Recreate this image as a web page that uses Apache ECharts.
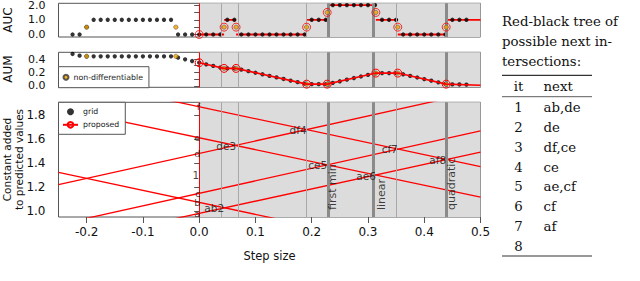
<!DOCTYPE html>
<html><head><meta charset="utf-8">
<script src="https://cdn.jsdelivr.net/npm/echarts@6/dist/echarts.min.js"></script>
<style>html,body{margin:0;padding:0;background:#fff}#c{width:640px;height:281px}</style>
</head><body><div id="c"></div>
<script>
// ---------- data ----------
const stepGrid = [-0.225,-0.2125,-0.2,-0.1875,-0.175,-0.1625,-0.15,-0.1375,-0.125,-0.1125,-0.1,-0.0875,-0.075,-0.0625,-0.05,-0.0375,-0.025,-0.0125,
  0,0.0125,0.025,0.0375,0.05,0.0625,0.075,0.0875,0.1,0.1125,0.125,0.1375,0.15,0.1625,0.175,0.1875,0.2,0.2125,0.225,0.2375,0.25,0.2625,0.275,0.2875,0.3,0.3125,0.325,0.3375,0.35,0.3625,0.375,0.3875,0.4,0.4125,0.425,0.4375,0.45,0.4625,0.475];
const gridAUC = [0,0,0.5,1,1,1,1,1,1,1,1,1,1,1,1,0,0,0,
  0,0,0,0,1,1,0,0,0,0,0,0,0,0,0,0,1,1,1,2,2,2,2,2,2,2,1,1,1,0,0,0,0,0,0,0,1,1,1];
const gridAUM = [0.475,0.45,0.44,0.44,0.44,0.44,0.44,0.44,0.44,0.44,0.44,0.44,0.44,0.44,0.44,0.42,0.395,0.37,
  0.345,0.321,0.297,0.273,0.26,0.26,0.242,0.219,0.195,0.172,0.148,0.125,0.102,0.078,0.055,0.032,0.025,0.025,0.025,
  0.044,0.068,0.092,0.116,0.139,0.163,0.187,0.19,0.19,0.19,0.172,0.148,0.124,0.1,0.076,0.052,0.028,0.022,0.02,0.018];
const iterSteps = [0, 0.0443, 0.0656, 0.191, 0.2275, 0.314, 0.353, 0.439];
const iterAUC = [0, 0.5, 0.5, 0.5, 1.5, 1.5, 0.5, 0.5];
const iterAUM = [0.345, 0.26, 0.26, 0.025, 0.025, 0.19, 0.19, 0.025];
const searchEnd = 0.5;
const aucAfterIter = [0, 1, 0, 1, 2, 1, 0, 1];
const aumAtEnd = 0.008;
const nondiffNegSteps = [-0.2, -0.0414];
const nondiffNegAUC = [0.5, 0.5];
const nondiffNegAUM = [0.44, 0.44];
const lineNames = ['a','b','c','d','e','f'];
const lineAtZero = [0.98, 1.072, 1.147, 1.48, 1.61, 1.869];
const lineAtLeft = [0.725, 1.322, 0.887, 1.22, 1.857, 2.119];   // step = -0.25
const lineAtRight = [1.49, 0.572, 1.667, 2.0, 1.116, 1.369];    // step = 0.5
const iterLabels = ['1','ab2','de3','df4','ce5','ae6','cf7','af8'];
const iterLabelConst = [1.3, 1.024, 1.54, 1.675, 1.382, 1.295, 1.514, 1.422];
const specialSteps = [0.2275, 0.314, 0.439];
const specialLabels = ['first min', 'linear', 'quadratic'];
const xTicks = [-0.2,-0.1,0,0.1,0.2,0.3,0.4,0.5];
const aucTicks = [0,0.5,1,1.5,2], aucLabels = [0,1,2];
const aumTicks = [0,0.1,0.2,0.3,0.4], aumLabels = [0,0.2,0.4];
const constTicks = [1.0,1.2,1.4,1.6,1.8];
const tableIt = ['1','2','3','4','5','6','7','8'];
const tableNext = ['ab,de','de','df,ce','ce','ae,cf','cf','af',''];

// ---------- chart ----------
const SANS = 'DejaVu Sans';
const SERIF = 'DejaVu Serif';
const RED = '#ff0000', ORANGE = '#f0a000';
const chart = echarts.init(document.getElementById('c'), null, {renderer: 'svg'});

const grids = [
  {left: 58.5, top: 3.3, width: 422, height: 33.7},
  {left: 58.5, top: 52.3, width: 422, height: 35},
  {left: 58.5, top: 102.3, width: 422, height: 114.7}
].map(g => Object.assign(g, {show: true, borderColor: '#555', borderWidth: 1, backgroundColor: 'transparent', outerBoundsMode: 'none', containLabel: false}));

const xAxes = [0,1,2].map(i => ({
  type: 'value', gridIndex: i, min: -0.25, max: 0.5,
  axisLine: {show: false}, splitLine: {show: false},
  axisTick: {show: i === 2, customValues: xTicks, length: 6, lineStyle: {color: '#555'}},
  axisLabel: {show: i === 2, customValues: xTicks, formatter: v => v.toFixed(1), margin: 9,
    color: '#111', fontFamily: SANS, fontSize: 12}
}));
function yAx(i, min, max, ticks, labels, fs) {
  return {type: 'value', gridIndex: i, min: min, max: max,
    axisLine: {show: false}, splitLine: {show: false},
    axisTick: {show: true, customValues: ticks, length: 5, lineStyle: {color: '#555'}},
    axisLabel: {show: true, customValues: labels, formatter: v => v.toFixed(1), margin: 13,
      color: '#111', fontFamily: SANS, fontSize: fs}};
}
const yAxes = [
  yAx(0, -0.17, 2.12, aucTicks, aucLabels, 11),
  yAx(1, -0.022, 0.5, aumTicks, aumLabels, 11),
  yAx(2, 0.95, 1.906, constTicks, constTicks, 12)
];

function backdrop(i, yMin) {
  const vlines = [{xAxis: iterSteps[0], lineStyle: {color: RED, width: 1, type: 'solid'}}]
    .concat(iterSteps.slice(1).map(s => ({xAxis: s, lineStyle: {color: '#a8a8a8', width: 1, type: 'solid'}})))
    .concat(specialSteps.map(s => ({xAxis: s, lineStyle: {color: '#8a8a8a', width: 3, type: 'solid'}})));
  return {type: 'scatter', xAxisIndex: i, yAxisIndex: i, data: [[searchEnd, yMin]], symbolSize: 0, silent: true, z: 1,
    markArea: {silent: true, itemStyle: {color: '#dcdcdc'}, data: [[{xAxis: iterSteps[0]}, {xAxis: searchEnd}]]},
    markLine: {silent: true, symbol: ['none','none'], label: {show: false}, lineStyle: {type: 'solid'}, data: vlines}};
}

const series = [];
series.push(backdrop(0, -0.17), backdrop(1, -0.022), backdrop(2, 0.95));

// AUM proposed line (first named 'proposed' for legend icon)
series.push({name: 'proposed', type: 'line', xAxisIndex: 1, yAxisIndex: 1,
  data: iterSteps.map((s, k) => [s, iterAUM[k]]).concat([{value: [searchEnd, aumAtEnd], symbol: 'none'}]),
  symbol: 'circle', symbolSize: 8,
  lineStyle: {color: RED, width: 1.6},
  itemStyle: {color: 'rgba(0,0,0,0)', borderColor: RED, borderWidth: 1}, z: 6});

// AUC proposed segments
iterSteps.forEach((s, k) => {
  const e = k + 1 < iterSteps.length ? iterSteps[k + 1] : searchEnd;
  series.push({name: 'seg' + k, type: 'line', xAxisIndex: 0, yAxisIndex: 0, z: 3, symbol: 'none',
    data: [[s, aucAfterIter[k]], [e, aucAfterIter[k]]], lineStyle: {color: RED, width: 1.8}});
});

// grid points
[0, 1].forEach(i => {
  const vals = i === 0 ? gridAUC : gridAUM;
  series.push({name: 'grid', type: 'scatter', xAxisIndex: i, yAxisIndex: i, z: 4,
    data: stepGrid.map((s, k) => [s, vals[k]]), symbol: 'circle', symbolSize: 4.3,
    itemStyle: {color: '#000'}});
});

// non-differentiable points
[0, 1].forEach(i => {
  const negVals = i === 0 ? nondiffNegAUC : nondiffNegAUM;
  const posVals = i === 0 ? iterAUC : iterAUM;
  const d = nondiffNegSteps.map((s, k) => [s, negVals[k]])
    .concat(iterSteps.slice(1).map((s, k) => [s, posVals[k + 1]]));
  series.push({name: 'non-differentiable', type: 'scatter', xAxisIndex: i, yAxisIndex: i, z: 5,
    data: d, symbol: 'circle', symbolSize: 4.4,
    itemStyle: {color: ORANGE, borderColor: '#333', borderWidth: 0.5}});
});

// AUC proposed circles
series.push({name: 'proposedAUC', type: 'scatter', xAxisIndex: 0, yAxisIndex: 0, z: 6,
  data: iterSteps.map((s, k) => [s, iterAUC[k]]), symbol: 'circle', symbolSize: 8,
  itemStyle: {color: 'rgba(0,0,0,0)', borderColor: RED, borderWidth: 1}});

// bottom panel lines
lineNames.forEach((n, k) => {
  series.push({name: 'line ' + n, type: 'line', xAxisIndex: 2, yAxisIndex: 2, z: 3, symbol: 'none', clip: true,
    data: [[-0.25, lineAtLeft[k]], [0.5, lineAtRight[k]]], lineStyle: {color: RED, width: 1.3}});
});
// letters at step 0
series.push({name: 'letters', type: 'scatter', xAxisIndex: 2, yAxisIndex: 2, z: 7, symbolSize: 0, silent: true,
  data: lineNames.map((n, k) => ({value: [0, lineAtZero[k]], name: n})),
  label: {show: true, formatter: p => p.name, position: [1, 0], align: 'right', verticalAlign: 'middle',
    color: '#111', fontFamily: SANS, fontSize: 9.5, lineHeight: 8}});
// iteration labels
series.push({name: 'iters', type: 'scatter', xAxisIndex: 2, yAxisIndex: 2, z: 7, symbolSize: 0, silent: true,
  data: iterSteps.map((s, k) => ({value: [s, iterLabelConst[k]], name: iterLabels[k]})),
  label: {show: true, formatter: p => p.name, position: [0, 0], align: 'right', verticalAlign: 'middle',
    color: '#111', fontFamily: SANS, fontSize: 10.5}});
// special step labels
series.push({name: 'special', type: 'scatter', xAxisIndex: 2, yAxisIndex: 2, z: 7, symbolSize: 0, silent: true,
  data: specialSteps.map((s, k) => ({value: [s, 0.95], name: specialLabels[k]})),
  label: {show: true, formatter: p => p.name, position: [5.5, -7], rotate: 90, align: 'left', verticalAlign: 'middle',
    color: '#111', fontFamily: SANS, fontSize: 11}});

// ---------- graphics: axis titles and table ----------
const graphics = [];
function vtext(txt, x, y, fs, lh) {
  graphics.push({type: 'text', x: x, y: y, rotation: Math.PI / 2,
    style: {text: txt, font: fs + 'px "' + SANS + '"', fill: '#111', textAlign: 'center', textVerticalAlign: 'middle', lineHeight: lh}});
}
vtext('AUC', 8, 20, 12, 13);
vtext('AUM', 8, 69, 12, 13);
vtext('Constant added\nto predicted values', 12.5, 159.5, 10.5, 12);
graphics.push({type: 'text', x: 269.5, y: 256, style: {text: 'Step size', font: '11.5px "' + SANS + '"', fill: '#111', textAlign: 'center', textVerticalAlign: 'middle'}});

const TF = '13.3px "' + SERIF + '"';
['Red-black tree of', 'possible next in-', 'tersections:'].forEach((t, k) => {
  graphics.push({type: 'text', x: 502, y: 21.7 + k * 19.8, style: {text: t, font: TF, fill: '#111', textAlign: 'left', textVerticalAlign: 'middle'}});
});
function rule(y, w) { graphics.push({type: 'line', shape: {x1: 502, y1: y, x2: 592, y2: y}, style: {stroke: '#333', lineWidth: w}}); }
rule(75.3, 1.2); rule(96.7, 0.8);
graphics.push({type: 'text', x: 518.5, y: 86, style: {text: 'it', font: TF, fill: '#111', textAlign: 'center', textVerticalAlign: 'middle'}});
graphics.push({type: 'text', x: 543.5, y: 86, style: {text: 'next', font: TF, fill: '#111', textAlign: 'left', textVerticalAlign: 'middle'}});
tableIt.forEach((t, k) => {
  const y = 107.3 + k * 19.9;
  graphics.push({type: 'text', x: 518.5, y: y, style: {text: t, font: TF, fill: '#111', textAlign: 'center', textVerticalAlign: 'middle'}});
  graphics.push({type: 'text', x: 543.5, y: y, style: {text: tableNext[k], font: TF, fill: '#111', textAlign: 'left', textVerticalAlign: 'middle'}});
});
rule(256, 1.2);

chart.setOption({
  animation: false,
  backgroundColor: '#fff',
  grid: grids, xAxis: xAxes, yAxis: yAxes, series: series, graphic: graphics,
  legend: [
    {data: ['non-differentiable'], left: 58.5, top: 66.7, orient: 'vertical', selectedMode: false,
      itemWidth: 5, itemHeight: 5, padding: [6, 6, 6, 4], backgroundColor: '#fff', borderColor: '#555', borderWidth: 1, borderRadius: 0,
      textStyle: {fontSize: 7.8, fontFamily: SANS, color: '#222', lineHeight: 9}, z: 10},
    {data: [{name: 'grid', itemStyle: {color: '#000'}}, 'proposed'], left: 58.5, top: 102.3, orient: 'vertical', selectedMode: false,
      itemWidth: 15, itemHeight: 7, itemGap: 4, padding: [5, 6, 5, 3.5], backgroundColor: '#fff', borderColor: '#555', borderWidth: 1, borderRadius: 0,
      textStyle: {fontSize: 7.8, fontFamily: SANS, color: '#222', lineHeight: 9}, z: 10}
  ]
});
</script></body></html>
